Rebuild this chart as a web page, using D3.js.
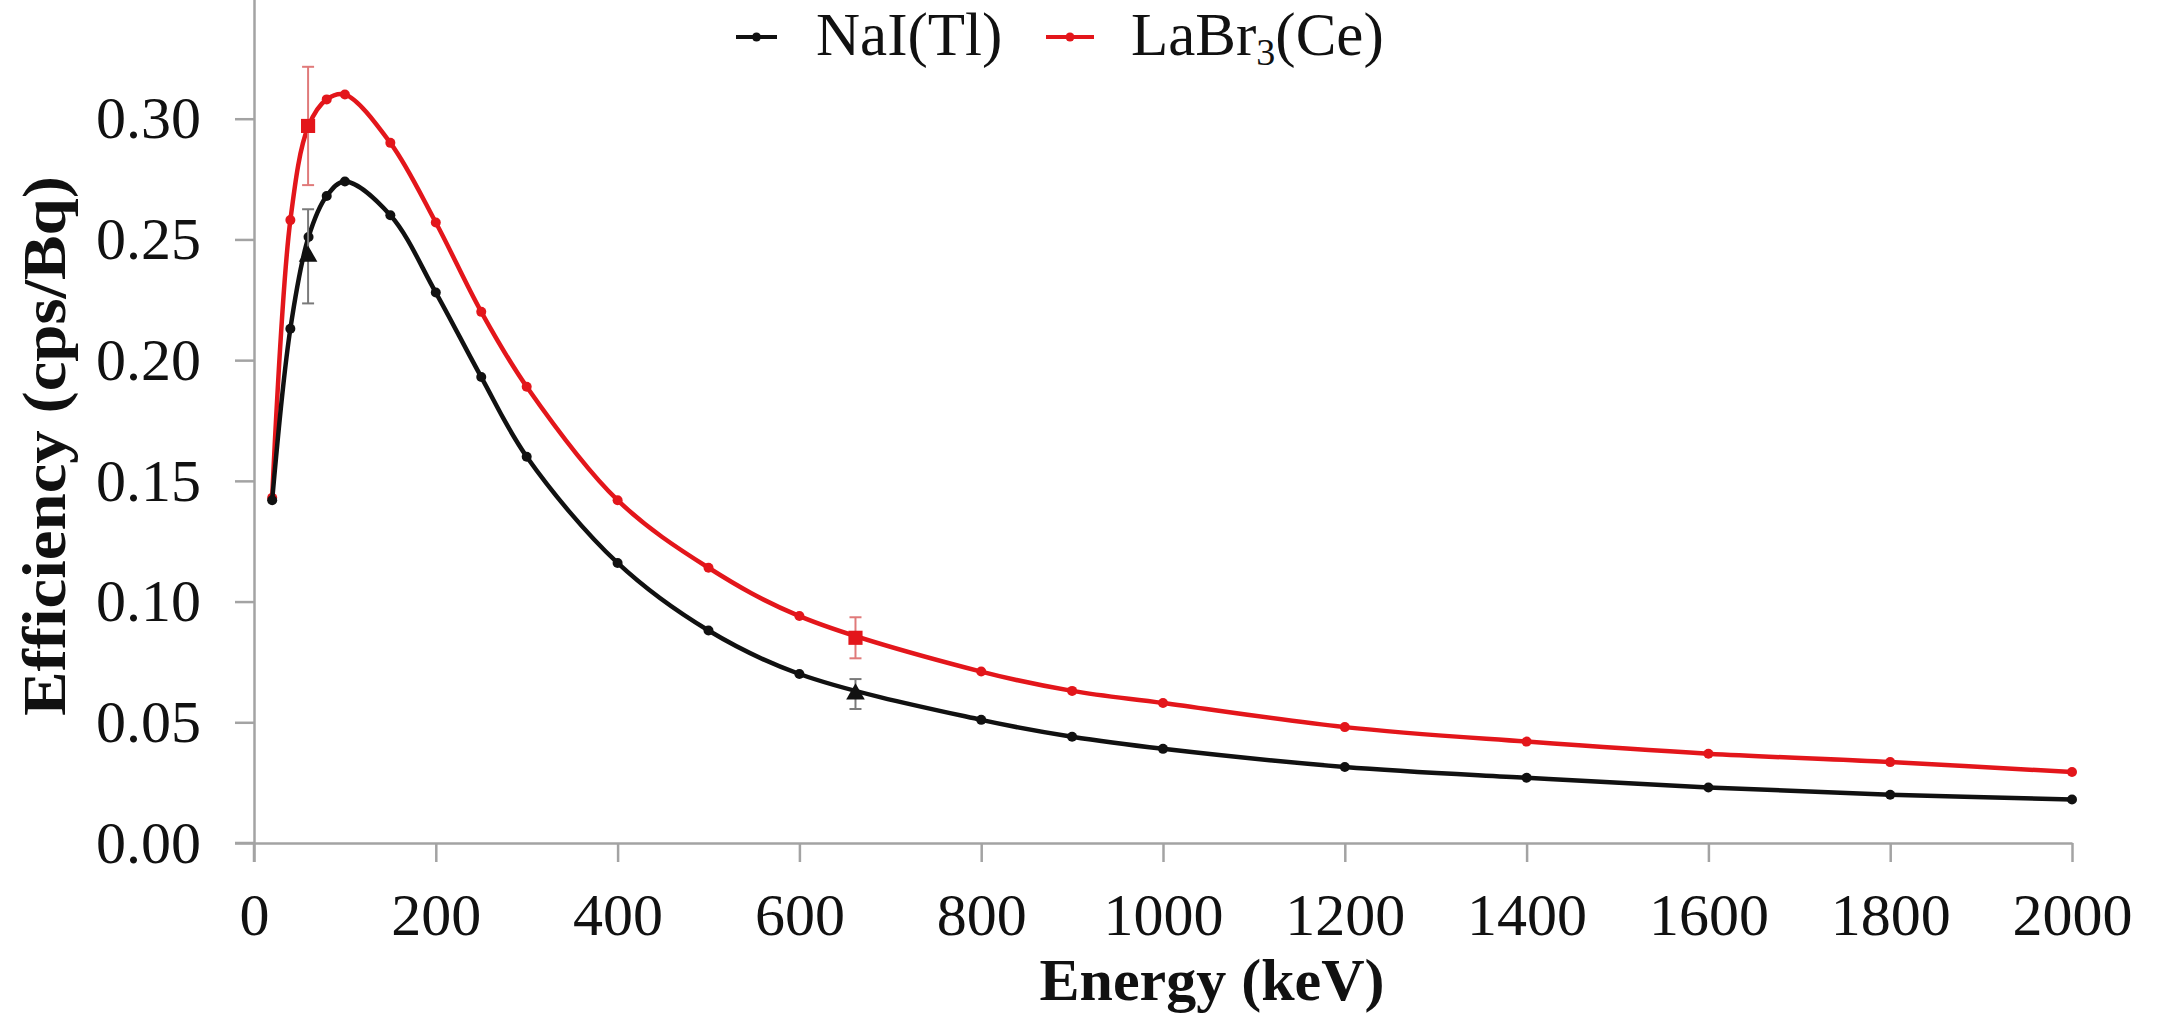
<!DOCTYPE html>
<html lang="en">
<head>
  <meta charset="UTF-8">
  <title>Detector Efficiency vs Energy</title>
  <style>
    body {
      margin: 0;
      background: #fff;
    }
    svg text {
      font-family: "Liberation Serif", "Times New Roman", serif;
      fill: #111;
    }
    .axis path, .axis line {
      stroke: #a3a3a3;
      stroke-width: 2.5;
    }
  </style>
</head>
<body>
  <div id="chart"></div>

  <script src="https://d3js.org/d3.v7.min.js"></script>
  <script>
    // Energies of the simulated points (keV)
    const energies = [20, 40, 60, 80, 100, 150, 200, 250, 300, 400, 500, 600, 800, 900, 1000, 1200, 1400, 1600, 1800, 2000];
    // Simulated efficiency (cps/Bq)
    const naiEff  = [0.142, 0.213, 0.251, 0.268, 0.274, 0.260, 0.228, 0.193, 0.160, 0.116, 0.088, 0.070, 0.051, 0.044, 0.039, 0.0315, 0.027, 0.023, 0.020, 0.018];
    const labrEff = [0.143, 0.258, 0.297, 0.308, 0.310, 0.290, 0.257, 0.220, 0.189, 0.142, 0.114, 0.094, 0.071, 0.063, 0.058, 0.048, 0.042, 0.037, 0.0335, 0.0294];

    // Measured points (Am-241, Cs-137) with errors
    const measEnergy = [59.5, 661.7];
    const naiMeas  = [0.243, 0.0617];
    const naiErr   = [0.0195, 0.0062];
    const labrMeas = [0.297, 0.085];
    const labrErr  = [0.0245, 0.0085];

    const xTicks = [0, 200, 400, 600, 800, 1000, 1200, 1400, 1600, 1800, 2000];
    const yTicks = [0, 0.05, 0.10, 0.15, 0.20, 0.25, 0.30];

    const width = 2158, height = 1015;
    const left = 254, right = 2072, bottom = 843;
    const tickLen = 19;
    const red = "#e3161b", black = "#111";

    const svg = d3.select("#chart").append("svg")
      .attr("width", width)
      .attr("height", height);

    const x = d3.scaleLinear().domain([0, 2000]).range([left, right]);
    const y = d3.scaleLinear().domain([0, 0.35]).range([bottom, -2]);

    // Axes
    const yAxis = svg.append("g")
      .attr("class", "axis")
      .attr("transform", `translate(${left},0)`)
      .call(d3.axisLeft(y).tickValues(yTicks).tickFormat(d3.format(".2f"))
        .tickSize(tickLen).tickSizeOuter(0).tickPadding(34));
    yAxis.selectAll("text").style("font-size", "60px");
    // axis line running past the x axis
    yAxis.append("line").attr("x1", 0).attr("x2", 0)
      .attr("y1", y(0)).attr("y2", y(0) + tickLen);

    const xAxis = svg.append("g")
      .attr("class", "axis")
      .attr("transform", `translate(0,${bottom})`)
      .call(d3.axisBottom(x).tickValues(xTicks).tickFormat(d3.format("d"))
        .tickSize(tickLen).tickSizeOuter(0).tickPadding(30));
    xAxis.selectAll("text").style("font-size", "60px");
    xAxis.append("line").attr("x1", x(0) - tickLen).attr("x2", x(0))
      .attr("y1", 0).attr("y2", 0);

    // Axis titles
    svg.append("text")
      .attr("x", 1212).attr("y", 1000)
      .attr("text-anchor", "middle")
      .style("font-size", "60px").style("font-weight", "bold")
      .text("Energy (keV)");

    svg.append("text")
      .attr("transform", "translate(65,446) rotate(-90)")
      .attr("text-anchor", "middle")
      .attr("textLength", 540)
      .attr("lengthAdjust", "spacingAndGlyphs")
      .style("font-size", "61px").style("font-weight", "bold")
      .text("Efficiency (cps/Bq)");

    // Curves
    const series = [
      { name: "labr", values: labrEff, color: red },
      { name: "nai", values: naiEff, color: black }
    ];

    const line = d3.line()
      .x(d => x(d[0]))
      .y(d => y(d[1]))
      .curve(d3.curveCatmullRom.alpha(0.5));

    series.forEach(s => {
      const pts = energies.map((e, i) => [e, s.values[i]]);
      svg.append("path")
        .datum(pts)
        .attr("fill", "none")
        .attr("stroke", s.color)
        .attr("stroke-width", 4.5)
        .attr("d", line);
      svg.selectAll(".dot-" + s.name)
        .data(pts)
        .enter()
        .append("circle")
        .attr("class", "dot-" + s.name)
        .attr("cx", d => x(d[0]))
        .attr("cy", d => y(d[1]))
        .attr("r", 5)
        .attr("fill", s.color);
    });

    // Error bars for measured points
    function errorBars(vals, errs, color) {
      const g = svg.append("g").attr("stroke", color).attr("stroke-width", 2);
      measEnergy.forEach((e, i) => {
        const cx = x(e);
        const top = y(vals[i] + errs[i]), bot = y(vals[i] - errs[i]);
        g.append("line").attr("x1", cx).attr("x2", cx).attr("y1", top).attr("y2", bot);
        g.append("line").attr("x1", cx - 6).attr("x2", cx + 6).attr("y1", top).attr("y2", top);
        g.append("line").attr("x1", cx - 6).attr("x2", cx + 6).attr("y1", bot).attr("y2", bot);
      });
    }
    errorBars(labrMeas, labrErr, "#e07a7a");
    errorBars(naiMeas, naiErr, "#7a7a7a");

    svg.selectAll(".meas-labr")
      .data(measEnergy)
      .enter()
      .append("path")
      .attr("class", "meas-labr")
      .attr("transform", (d, i) => `translate(${x(d)},${y(labrMeas[i])})`)
      .attr("d", d3.symbol(d3.symbolSquare, 200))
      .attr("fill", red);

    svg.selectAll(".meas-nai")
      .data(measEnergy)
      .enter()
      .append("path")
      .attr("class", "meas-nai")
      .attr("transform", (d, i) => `translate(${x(d)},${y(naiMeas[i])})`)
      .attr("d", d3.symbol(d3.symbolTriangle, 150))
      .attr("fill", black);

    // Legend
    const legend = svg.append("g");
    const items = [
      { color: black, x0: 736, x1: 777 },
      { color: red, x0: 1046, x1: 1094 }
    ];
    items.forEach(it => {
      legend.append("line")
        .attr("x1", it.x0).attr("x2", it.x1)
        .attr("y1", 37).attr("y2", 37)
        .attr("stroke", it.color).attr("stroke-width", 4);
      legend.append("circle")
        .attr("cx", (it.x0 + it.x1) / 2).attr("cy", 37)
        .attr("r", 4.5).attr("fill", it.color);
    });
    legend.append("text")
      .attr("x", 816).attr("y", 55)
      .style("font-size", "61px")
      .text("NaI(Tl)");
    const labrText = legend.append("text")
      .attr("x", 1131).attr("y", 55)
      .style("font-size", "61px");
    labrText.append("tspan").text("LaBr");
    labrText.append("tspan").attr("dy", 10).style("font-size", "38px").style("fill", "#111").text("3");
    labrText.append("tspan").attr("dy", -10).text("(Ce)");
  </script>
</body>
</html>
